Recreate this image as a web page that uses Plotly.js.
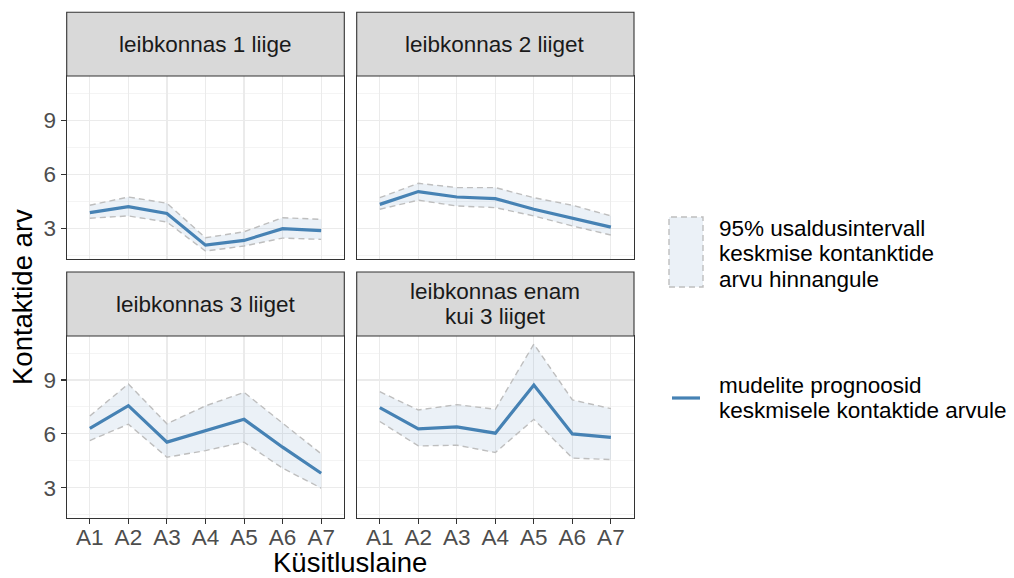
<!DOCTYPE html>
<html>
<head>
<meta charset="utf-8">
<script src="https://cdn.plot.ly/plotly-3.0.1.min.js"></script>
<style>
html,body{margin:0;padding:0;background:#fff;}
#chart{width:1014px;height:578px;}
</style>
</head>
<body>
<div id="chart"></div>
<script>
// ---- data ----
const waves = ['A1', 'A2', 'A3', 'A4', 'A5', 'A6', 'A7'];
const panelTitles = ['leibkonnas 1 liige', 'leibkonnas 2 liiget', 'leibkonnas 3 liiget', 'leibkonnas enam<br>kui 3 liiget'];
const yTicks = [3, 6, 9];

const fit1 = [3.87, 4.20, 3.83, 2.07, 2.33, 2.98, 2.87];
const lo1  = [3.56, 3.69, 3.35, 1.74, 2.02, 2.46, 2.39];
const hi1  = [4.28, 4.74, 4.39, 2.48, 2.81, 3.59, 3.50];

const fit2 = [4.33, 5.04, 4.74, 4.65, 4.06, 3.56, 3.07];
const lo2  = [4.06, 4.56, 4.24, 4.15, 3.69, 3.13, 2.63];
const hi2  = [4.70, 5.50, 5.26, 5.26, 4.70, 4.28, 3.69];

const fit3 = [6.31, 7.57, 5.54, 6.19, 6.81, 5.26, 3.81];
const lo3  = [5.63, 6.54, 4.70, 5.07, 5.54, 4.09, 2.98];
const hi3  = [7.00, 8.78, 6.56, 7.56, 8.31, 6.59, 4.89];

const fit4 = [7.46, 6.28, 6.39, 6.04, 8.72, 6.00, 5.81];
const lo4  = [6.69, 5.33, 5.37, 4.96, 6.81, 4.65, 4.57];
const hi4  = [8.35, 7.33, 7.63, 7.37, 11.00, 7.89, 7.41];

const legendRibbonLines = ['95% usaldusintervall', 'keskmise kontanktide', 'arvu hinnangule'];
const legendLineLines = ['mudelite prognoosid', 'keskmisele kontaktide arvule'];
const xTitle = 'Küsitluslaine';
const yTitle = 'Kontaktide arv';

// ---- styling ----
const W = 1014, H = 578;
const FONT = '"Liberation Sans", Arial, sans-serif';
const BLUE = '#4682B4';
const RIBBON = 'rgba(70,130,180,0.11)';
const DASH = '#BEBEBE';
const SMALL = 22.5, BIG = 27.5;

const px = v => v / W;
const py = v => 1 - v / H;

// panel geometry in pixels
const colX = [[66.7, 344.3], [356.7, 634]];
const rowY = [[76, 259], [336, 518.3]];
const stripY = [[12.3, 76], [272, 336]];

const series = [[fit1, lo1, hi1], [fit2, lo2, hi2], [fit3, lo3, hi3], [fit4, lo4, hi4]];

const traces = [];
const layout = {
  width: W, height: H,
  margin: {l: 0, r: 0, t: 0, b: 0},
  paper_bgcolor: '#fff', plot_bgcolor: '#fff',
  font: {family: FONT, color: '#4D4D4D'},
  showlegend: false,
  shapes: [], annotations: []
};

series.forEach((s, i) => {
  const n = i + 1;
  const xa = n === 1 ? 'x' : 'x' + n;
  const ya = n === 1 ? 'y' : 'y' + n;
  const [fit, lo, hi] = s;
  traces.push({x: waves, y: lo, xaxis: xa, yaxis: ya, type: 'scatter', mode: 'lines',
    line: {color: DASH, width: 1.4, dash: '6px,4px'}, hoverinfo: 'skip'});
  traces.push({x: waves, y: hi, xaxis: xa, yaxis: ya, type: 'scatter', mode: 'lines',
    fill: 'tonexty', fillcolor: RIBBON,
    line: {color: DASH, width: 1.4, dash: '6px,4px'}, hoverinfo: 'skip'});
  traces.push({x: waves, y: fit, xaxis: xa, yaxis: ya, type: 'scatter', mode: 'lines',
    line: {color: BLUE, width: 3.2}});

  const col = i % 2, row = Math.floor(i / 2);
  const xKey = n === 1 ? 'xaxis' : 'xaxis' + n;
  const yKey = n === 1 ? 'yaxis' : 'yaxis' + n;
  const bottom = row === 1, left = col === 0;
  layout[xKey] = {
    type: 'category', categoryorder: 'array', categoryarray: waves,
    domain: [px(colX[col][0]), px(colX[col][1])],
    anchor: ya, range: [-0.6, 6.6],
    showgrid: true, gridcolor: '#EBEBEB', gridwidth: 1.2,
    zeroline: false,
    showline: true, mirror: true, linecolor: '#333333', linewidth: 1.1,
    ticks: bottom ? 'outside' : '', ticklen: 5, tickcolor: '#333333', tickwidth: 1.1,
    ticklabelstandoff: -6,
    showticklabels: bottom,
    tickfont: {size: SMALL, color: '#4D4D4D', family: FONT}
  };
  layout[yKey] = {
    domain: [py(rowY[row][1]), py(rowY[row][0])],
    anchor: xa, range: [1.3, 11.45],
    tickmode: 'array', tickvals: yTicks, ticktext: yTicks.map(String),
    showgrid: true, gridcolor: '#EBEBEB', gridwidth: 1.2,
    minor: {tickmode: 'array', tickvals: [1.5, 4.5, 7.5, 10.5], showgrid: true, gridcolor: '#EFEFEF', gridwidth: 0.7, ticks: ''},
    zeroline: false,
    showline: true, mirror: true, linecolor: '#333333', linewidth: 1.1,
    ticks: left ? 'outside' : '', ticklen: 5, tickcolor: '#333333', tickwidth: 1.1,
    showticklabels: left,
    tickfont: {size: SMALL, color: '#4D4D4D', family: FONT}
  };

  // strip
  layout.shapes.push({type: 'rect', xref: 'paper', yref: 'paper',
    x0: px(colX[col][0]), x1: px(colX[col][1]), y0: py(stripY[row][1]), y1: py(stripY[row][0]),
    fillcolor: '#D9D9D9', line: {color: '#333333', width: 1.1}, layer: 'above'});
  const lines = panelTitles[i].split('<br>');
  const cy = (stripY[row][0] + stripY[row][1]) / 2;
  const lh = 25.5;
  lines.forEach((t, k) => {
    const yy = cy + (k - (lines.length - 1) / 2) * lh;
    layout.annotations.push({xref: 'paper', yref: 'paper',
      x: px((colX[col][0] + colX[col][1]) / 2), y: py(yy),
      xanchor: 'center', yanchor: 'middle', showarrow: false, align: 'center',
      text: t, font: {size: SMALL, color: '#1A1A1A', family: FONT}});
  });
});

// axis titles
layout.annotations.push({xref: 'paper', yref: 'paper', x: px(350), y: py(562),
  xanchor: 'center', yanchor: 'middle', showarrow: false, text: xTitle,
  font: {size: BIG, color: '#000', family: FONT}});
layout.annotations.push({xref: 'paper', yref: 'paper', x: px(22), y: py(297),
  xanchor: 'center', yanchor: 'middle', showarrow: false, text: yTitle, textangle: -90,
  font: {size: BIG, color: '#000', family: FONT}});

// legend (manual)
layout.shapes.push({type: 'rect', xref: 'paper', yref: 'paper',
  x0: px(669), x1: px(703), y0: py(287), y1: py(217),
  fillcolor: RIBBON, line: {color: DASH, width: 1.4, dash: '6px,4px'}});
layout.shapes.push({type: 'line', xref: 'paper', yref: 'paper',
  x0: px(672), x1: px(700), y0: py(398), y1: py(398),
  line: {color: BLUE, width: 3.2}});
[228, 253.5, 279].forEach((yy, k) => {
  layout.annotations.push({xref: 'paper', yref: 'paper', x: px(717), y: py(yy),
    xanchor: 'left', yanchor: 'middle', showarrow: false, align: 'left', text: legendRibbonLines[k],
    font: {size: SMALL, color: '#000', family: FONT}});
});
[385, 410].forEach((yy, k) => {
  layout.annotations.push({xref: 'paper', yref: 'paper', x: px(717), y: py(yy),
    xanchor: 'left', yanchor: 'middle', showarrow: false, align: 'left', text: legendLineLines[k],
    font: {size: SMALL, color: '#000', family: FONT}});
});

Plotly.newPlot('chart', traces, layout, {displayModeBar: false, staticPlot: true});
</script>
</body>
</html>
